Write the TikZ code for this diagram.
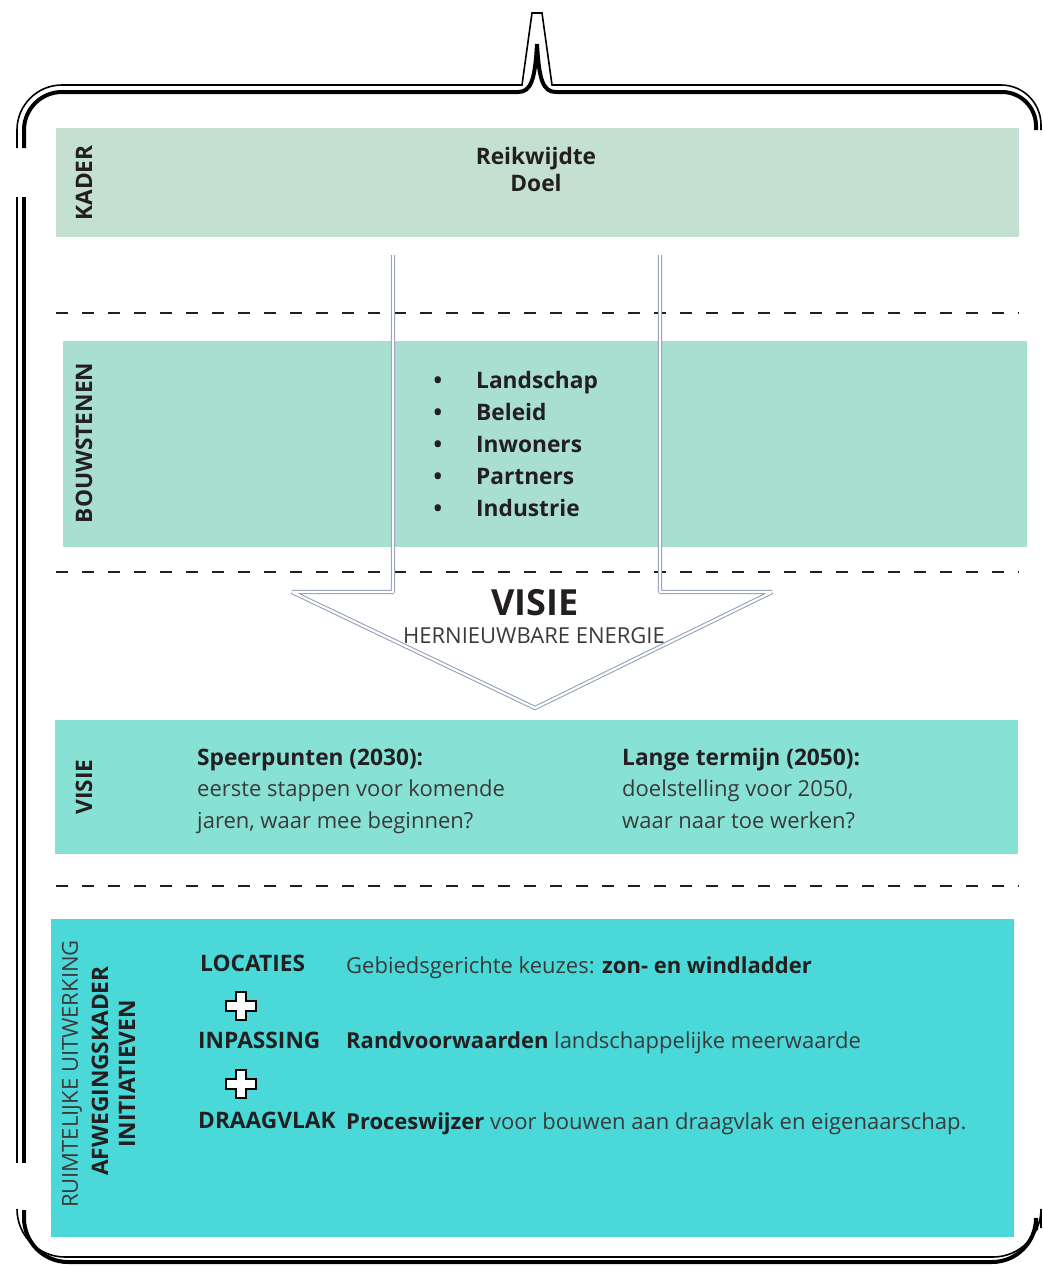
\documentclass[tikz,border=0pt]{standalone}
\usepackage{fontspec}
\setmainfont{Open Sans}
\definecolor{kadergroen}{HTML}{C3E0D1}
\definecolor{bouwgroen}{HTML}{A9DFD0}
\definecolor{visiegroen}{HTML}{88E1D5}
\definecolor{turkoois}{HTML}{4AD8D9}
\definecolor{pijlblauw}{HTML}{8E9AB6}
\definecolor{donker}{HTML}{231F20}
\definecolor{grijs}{HTML}{3A3A3A}
\tikzset{
  blok/.style={rectangle, inner sep=0pt},
  scheiding/.style={dash pattern=on 12pt off 14pt, line width=2pt, donker},
  pijl/.style={draw=pijlblauw, line width=1pt, double=white, double distance=2.2pt, line join=bevel},
  vet/.style={inner sep=0pt, text=donker, font=\bfseries\fontsize{22.7}{32}\selectfont},
  licht/.style={inner sep=0pt, text=grijs, font=\fontsize{22}{32}\selectfont},
  zijlabel/.style={vet, rotate=90},
  plusteken/.style={draw=black, fill=white, line width=1.5pt},
}

\begin{document}
\begin{tikzpicture}[x=1pt, y=-1pt]
\useasboundingbox (0,0) rectangle (1043,1266);
% vlakken
\node[blok, fill=kadergroen, minimum width=963, minimum height=109] (kader) at (537.5,182.5) {};
\node[blok, fill=bouwgroen, minimum width=964, minimum height=206] (bouw) at (545,444) {};
\node[blok, fill=visiegroen, minimum width=963, minimum height=134] (visie) at (536.5,787) {};
\node[blok, fill=turkoois, minimum width=963, minimum height=318] (afweg) at (532.5,1078) {};
% stippellijnen
\foreach \y in {313,572,886}
\draw[scheiding] (56,\y) -- (1019,\y);
% kader rondom
\draw[line width=1.6pt] (17,148) [rounded corners=45] -- (17,85) -- (300,85) [sharp corners] -- (522,85) -- (532,13) -- (542,13) -- (552,85) [rounded corners=40] -- (800,85) -- (1041,85) -- (1041,130);
\draw[line width=4pt] (24,148) [rounded corners=38] -- (24,92) -- (300,92) [sharp corners] -- (518,92) .. controls (531,92) and (535,80) .. (537,44) .. controls (539,80) and (543,92) .. (556,92) [rounded corners=34] -- (800,92) -- (1036,92) -- (1036,130);
\draw[line width=1.6pt] (17,197) -- (17,1163);
\draw[line width=4pt] (24,197) -- (24,1163);
\draw[line width=1.6pt] (17,1210) [rounded corners=48] -- (17,1257) -- (1041,1257) -- (1041,1228);
\draw[line width=4pt] (24,1210) [rounded corners=44] -- (24,1262) -- (1036,1262) -- (1036,1230);
% pijl
\draw[pijl] (393,255) -- (393,592) -- (292,592) -- (535,708) -- (772,592) -- (660,592) -- (660,255);
% teksten kader
\node[vet, align=center, font=\bfseries\fontsize{22.7}{27}\selectfont] (reik) at (536,169.5) {Reikwijdte\\Doel};
\foreach \woord [count=\i] in {Landschap,Beleid,Inwoners,Partners,Industrie}
{
\node[vet, anchor=base] (punt\i) at (438,356+32*\i) {\textbullet};
\node[vet, anchor=base west] (woord\i) at (476,356+32*\i) {\woord};
}
\node[vet, font=\bfseries\fontsize{36}{40}\selectfont] (visiekop) at (535,603) {VISIE};
\node[licht, font=\fontsize{22}{24}\selectfont] (energie) at (534,636) {HERNIEUWBARE ENERGIE};
% zijlabels
\node[zijlabel] (lkader) at (84,183) {KADER};
\node[zijlabel] (lbouw) at (84,443) {BOUWSTENEN};
\node[zijlabel] (lvisie) at (84,787) {VISIE};
\node[licht, rotate=90] (lruimte) at (72,1074) {RUIMTELIJKE UITWERKING};
\node[zijlabel] (lafweg) at (100,1071) {AFWEGINGSKADER};
\node[zijlabel] (linit) at (127,1074) {INITIATIEVEN};
% visie
\node[vet, anchor=base west] (speer) at (197,765) {Speerpunten (2030):};
\node[licht, anchor=base west] (speer2) at (197,796.5) {eerste stappen voor komende};
\node[licht, anchor=base west] (speer3) at (197,828) {jaren, waar mee beginnen?};
\node[vet, anchor=base west] (lange) at (622,765) {Lange termijn (2050):};
\node[licht, anchor=base west] (lange2) at (622,796.5) {doelstelling voor 2050,};
\node[licht, anchor=base west] (lange3) at (622,828) {waar naar toe werken?};
% afwegingskader
\node[vet, anchor=base west] (locaties) at (200,971) {LOCATIES};
\node[vet, anchor=base west] (inpassing) at (198,1048.5) {INPASSING};
\node[vet, anchor=base west] (draagvlak) at (198,1128) {DRAAGVLAK};
\node[licht, anchor=base west] (keuzes) at (346,973) {Gebiedsgerichte keuzes: \textbf{\textcolor{donker}{zon- en windladder}}};
\node[licht, anchor=base west] (rand) at (346,1048) {\textbf{\textcolor{donker}{Randvoorwaarden}} landschappelijke meerwaarde};
\node[licht, anchor=base west] (proces) at (346,1129) {\textbf{\textcolor{donker}{Proceswijzer}} voor bouwen aan draagvlak en eigenaarschap.};
\foreach \py in {1006,1084}
\draw[plusteken, shift={(241,\py)}] (-5,-14) -- (5,-14) -- (5,-5) -- (15,-5) -- (15,5) -- (5,5) -- (5,14) -- (-5,14) -- (-5,5) -- (-15,5) -- (-15,-5) -- (-5,-5) -- cycle;
\end{tikzpicture}
\end{document}
